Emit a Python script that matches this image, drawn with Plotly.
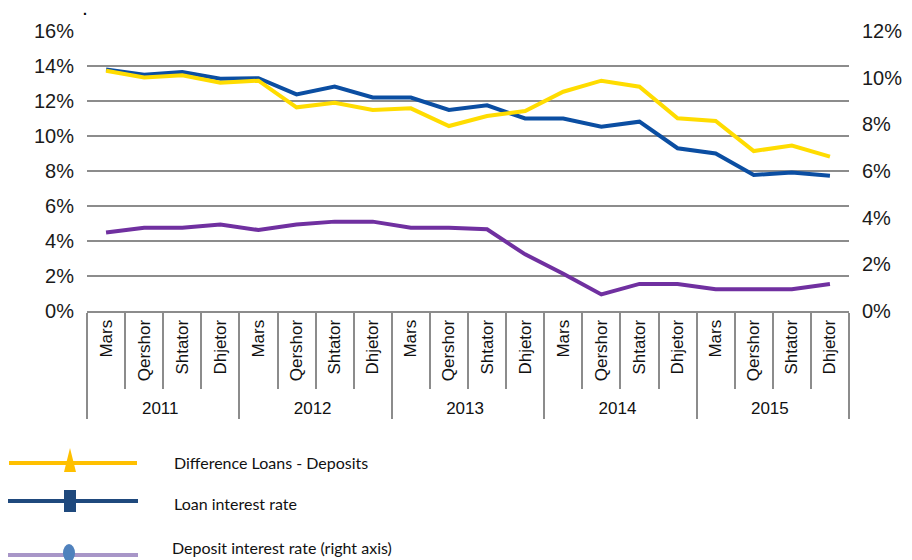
import plotly.graph_objects as go

years = ["2011", "2012", "2013", "2014", "2015"]
months = ["Mars", "Qershor", "Shtator", "Dhjetor"]

loan_rate = [13.8, 13.5, 13.65, 13.27, 13.3, 12.38, 12.82, 12.2, 12.2, 11.49,
             11.75, 11.0, 11.0, 10.53, 10.82, 9.3, 9.0, 7.77, 7.92, 7.73]
difference = [13.73, 13.35, 13.47, 13.05, 13.16, 11.64, 11.9, 11.49, 11.58, 10.57,
              11.14, 11.43, 12.53, 13.16, 12.82, 11.01, 10.86, 9.14, 9.45, 8.82]
deposit_rate = [3.36, 3.57, 3.57, 3.71, 3.47, 3.71, 3.83, 3.83, 3.57, 3.57,
                3.5, 2.43, 1.6, 0.71, 1.16, 1.16, 0.93, 0.93, 0.93, 1.16]

x_years = [y for y in years for _ in months]
x_months = [m for _ in years for m in months]
x = [x_years, x_months]

W, H = 912, 560
L, R, T, B = 87, 849, 31, 311

def px(xp):
    return (xp - L) / (R - L)

def py(yp):
    return (B - yp) / (B - T)

fig = go.Figure()
fig.add_trace(go.Scatter(x=x, y=loan_rate, mode="lines", name="Loan interest rate",
                         line=dict(color="#0B4EA2", width=4)))
fig.add_trace(go.Scatter(x=x, y=difference, mode="lines", name="Difference Loans - Deposits",
                         line=dict(color="#FFDC00", width=4)))
fig.add_trace(go.Scatter(x=x, y=deposit_rate, mode="lines", name="Deposit interest rate (right axis)",
                         line=dict(color="#7030A0", width=4), yaxis="y2"))

gray = "#8c8c8c"
tickfont = dict(family="Liberation Sans, Arial", size=20, color="#1a1a1a")

fig.update_layout(
    width=W, height=H,
    margin=dict(l=L, r=W - R, t=T, b=H - B, autoexpand=False),
    paper_bgcolor="white", plot_bgcolor="white",
    showlegend=False,
    xaxis=dict(type="multicategory", tickangle=-90, automargin=False,
               range=[-0.5, len(x_months) - 0.5],
               tickfont=dict(family="Liberation Sans, Arial", size=17, color="#111111"),
               showline=True, linecolor=gray, linewidth=2,
               ticks="outside", ticklen=76, tickcolor=gray, tickwidth=2,
               tickson="boundaries",
               showdividers=True, dividercolor=gray, dividerwidth=2,
               showgrid=False),
    yaxis=dict(range=[0, 16], dtick=2, ticksuffix="%", tickfont=tickfont, automargin=False,
               showgrid=True, gridcolor=gray, gridwidth=2, zeroline=False,
               ticklabelstandoff=12),
    yaxis2=dict(range=[0, 12], dtick=2, ticksuffix="%", tickfont=tickfont, automargin=False,
                overlaying="y", side="right", showgrid=False, zeroline=False,
                ticklabelstandoff=12),
)

# manual legend (long line samples as in the reference)
leg_font = dict(family="Lato, Noto Sans", size=16, color="#111111")
shapes = []
annots = []
# Difference
shapes.append(dict(type="line", xref="paper", yref="paper", x0=px(9), x1=px(137), y0=py(463), y1=py(463),
                   line=dict(color="#FFC000", width=4)))
shapes.append(dict(type="path", xref="paper", yref="paper",
                   path=f"M {px(64)} {py(472)} L {px(70)} {py(448)} L {px(76)} {py(472)} Z",
                   fillcolor="#FFC000", line=dict(width=0)))
annots.append(dict(text="Difference Loans - Deposits", x=px(172), y=py(463), xref="paper", yref="paper",
                   xanchor="left", yanchor="middle", showarrow=False, font=leg_font))
# Loan
shapes.append(dict(type="line", xref="paper", yref="paper", x0=px(8), x1=px(138), y0=py(501), y1=py(501),
                   line=dict(color="#1F497D", width=4)))
shapes.append(dict(type="rect", xref="paper", yref="paper", x0=px(64), x1=px(76), y0=py(490), y1=py(512),
                   fillcolor="#1F497D", line=dict(width=0)))
annots.append(dict(text="Loan interest rate", x=px(172), y=py(503), xref="paper", yref="paper",
                   xanchor="left", yanchor="middle", showarrow=False, font=leg_font))
# Deposit
shapes.append(dict(type="line", xref="paper", yref="paper", x0=px(8), x1=px(138), y0=py(555), y1=py(555),
                   line=dict(color="#A896C8", width=4)))
shapes.append(dict(type="circle", xref="paper", yref="paper", x0=px(63), x1=px(75), y0=py(544), y1=py(562),
                   fillcolor="#4F81BD", line=dict(width=0)))
annots.append(dict(text="Deposit interest rate (right axis)", x=px(170), y=py(547), xref="paper", yref="paper",
                   xanchor="left", yanchor="middle", showarrow=False, font=leg_font))
annots.append(dict(text="<b>.</b>", x=px(85), y=py(10), xref="paper", yref="paper",
                   xanchor="center", yanchor="middle", showarrow=False,
                   font=dict(family="Liberation Sans", size=14, color="black")))

fig.update_layout(shapes=shapes, annotations=annots)
fig.write_html("out.html", config={"displayModeBar": False},
               post_script="document.body.style.margin='0';document.body.style.overflow='hidden';")
